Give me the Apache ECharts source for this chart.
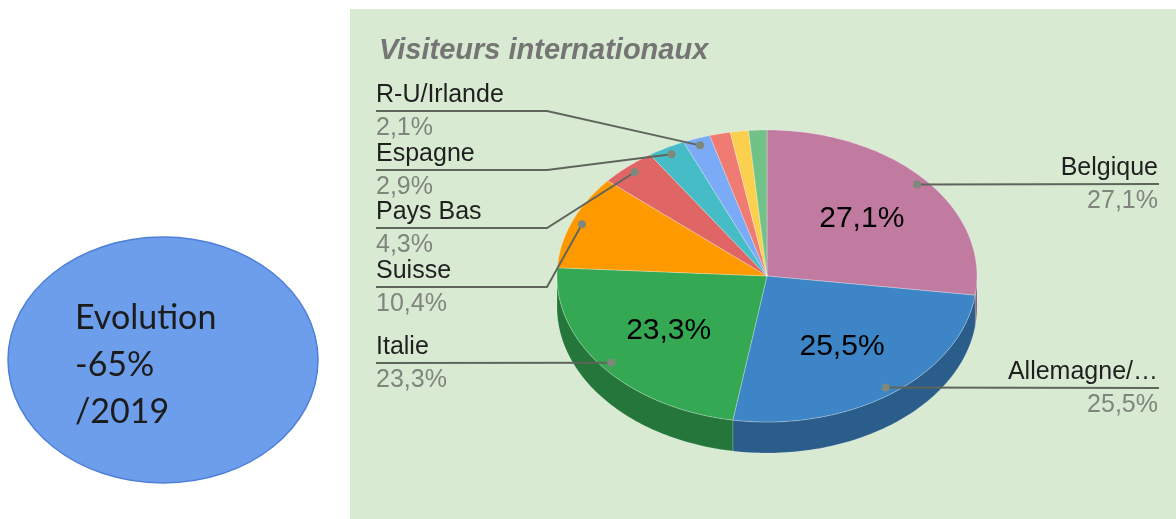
<!DOCTYPE html>
<html>
<head>
<meta charset="utf-8">
<script src="https://cdn.jsdelivr.net/npm/echarts@6/dist/echarts.min.js"></script>
<style>
  html, body { margin: 0; padding: 0; background: #fff; }
  #chart { width: 1176px; height: 519px; }
</style>
</head>
<body>
<div id="chart"></div>
<script>
// données
var pays = ['Belgique', 'Allemagne/…', 'Italie', 'Suisse', 'Pays Bas', 'Espagne', 'R-U/Irlande', 'Autre 1', 'Autre 2', 'Autre 3'];
var parts = [27.1, 25.5, 23.3, 10.4, 4.3, 2.9, 2.1, 1.6, 1.4, 1.4];
var etiquettes = ['27,1%', '25,5%', '23,3%', '10,4%', '4,3%', '2,9%', '2,1%', '', '', ''];
var evolution = ['Evolution', '-65%', '/2019'];

// mise en page
var couleurs = ['#c27ba0', '#3d85c6', '#34a853', '#ff9900', '#e06666', '#46bdc6', '#7baaf7', '#f07b72', '#fcd04f', '#71c287'];
var ligneY = [184, 388, 363, 287, 228, 170, 111, null, null, null];
var cx = 767, cy = 276, rx = 210, ry = 146, epaisseur = 31;
var police = '"Liberation Sans", Arial, sans-serif';

var total = 0, debut = [];
parts.forEach(function (v) { debut.push(total); total += v; });

function pt(a, r, dy) {
  return [cx + rx * r * Math.sin(a), cy - ry * r * Math.cos(a) + (dy || 0)];
}
function arc(a0, a1, dy) {
  var pts = [], n = Math.max(2, Math.ceil((a1 - a0) / 0.02));
  for (var k = 0; k <= n; k++) pts.push(pt(a0 + (a1 - a0) * k / n, 1, dy));
  return pts;
}
function assombrir(c, f) {
  var r = parseInt(c.substr(1, 2), 16), g = parseInt(c.substr(3, 2), 16), b = parseInt(c.substr(5, 2), 16);
  return 'rgb(' + Math.round(r * f) + ',' + Math.round(g * f) + ',' + Math.round(b * f) + ')';
}

var chart = echarts.init(document.getElementById('chart'));

var option = {
  backgroundColor: '#ffffff',
  title: {
    text: 'Visiteurs internationaux',
    left: 374,
    top: 31,
    textStyle: { fontFamily: police, fontStyle: 'italic', fontWeight: 'bold', fontSize: 29, color: '#757575' }
  },
  graphic: [
    { type: 'rect', z: -10, shape: { x: 350, y: 9, width: 826, height: 510 }, style: { fill: '#d9ead3' } },
    { type: 'ellipse', shape: { cx: 163, cy: 360, rx: 155, ry: 123 }, style: { fill: '#6d9eeb', stroke: '#4f80d8', lineWidth: 1.5 } },
    {
      type: 'text', left: 75, top: 295,
      style: { text: evolution.join('\n'), fontFamily: 'Lato, "Open Sans", sans-serif', fontSize: 34, lineHeight: 47, fill: '#1c1c1c' }
    }
  ],
  series: [{
    type: 'custom',
    coordinateSystem: 'none',
    data: parts,
    renderItem: function (params, api) {
      var i = params.dataIndex;
      var v = api.value(0);
      var a0 = debut[i] / total * 2 * Math.PI;
      var a1 = (debut[i] + v) / total * 2 * Math.PI;
      var mid = (a0 + a1) / 2;
      var enfants = [];

      // face latérale (moitié avant seulement)
      var s0 = Math.max(a0, Math.PI / 2), s1 = Math.min(a1, 1.5 * Math.PI);
      if (s1 > s0) {
        var haut = arc(s0, s1, 0), bas = arc(s0, s1, epaisseur).reverse();
        enfants.push({
          type: 'polygon', z2: 1,
          shape: { points: haut.concat(bas) },
          style: { fill: assombrir(couleurs[i], 0.7), stroke: 'rgba(255,255,255,0.25)', lineWidth: 0.6 }
        });
      }
      // face du dessus
      enfants.push({
        type: 'polygon', z2: 2,
        shape: { points: [[cx, cy]].concat(arc(a0, a1, 0)) },
        style: { fill: couleurs[i], stroke: 'rgba(255,255,255,0.35)', lineWidth: 0.8 }
      });

      // étiquette intérieure
      if (v >= 15) {
        var c = pt(mid, 0.6);
        enfants.push({
          type: 'text', z2: 5, x: c[0], y: c[1],
          style: { text: etiquettes[i], fontFamily: police, fontSize: 30, fill: '#000', align: 'center', verticalAlign: 'middle' }
        });
      }

      // étiquette extérieure avec ligne de rappel
      if (ligneY[i] != null) {
        var d = pt(mid, 0.95), y = ligneY[i];
        var gauche = d[0] < cx;
        var pts = gauche ? [[376, y], [547, y], d] : [d, [1159, y]];
        if (gauche && Math.abs(d[1] - y) < 2) pts = [[376, y], d];
        enfants.push({ type: 'polyline', z2: 6, shape: { points: pts }, style: { stroke: '#5f655c', lineWidth: 2, fill: null } });
        enfants.push({ type: 'circle', z2: 7, shape: { cx: d[0], cy: d[1], r: 4 }, style: { fill: '#7f887b' } });
        var tx = gauche ? 376 : 1158, al = gauche ? 'left' : 'right';
        enfants.push({
          type: 'text', z2: 6, x: tx, y: y - 16,
          style: { text: pays[i], fontFamily: police, fontSize: 25, fill: '#1f1f1f', align: al, verticalAlign: 'middle' }
        });
        enfants.push({
          type: 'text', z2: 6, x: tx, y: y + 17,
          style: { text: etiquettes[i], fontFamily: police, fontSize: 25, fill: '#7f857c', align: al, verticalAlign: 'middle' }
        });
      }
      return { type: 'group', children: enfants };
    }
  }]
};

chart.setOption(option);
</script>
</body>
</html>
